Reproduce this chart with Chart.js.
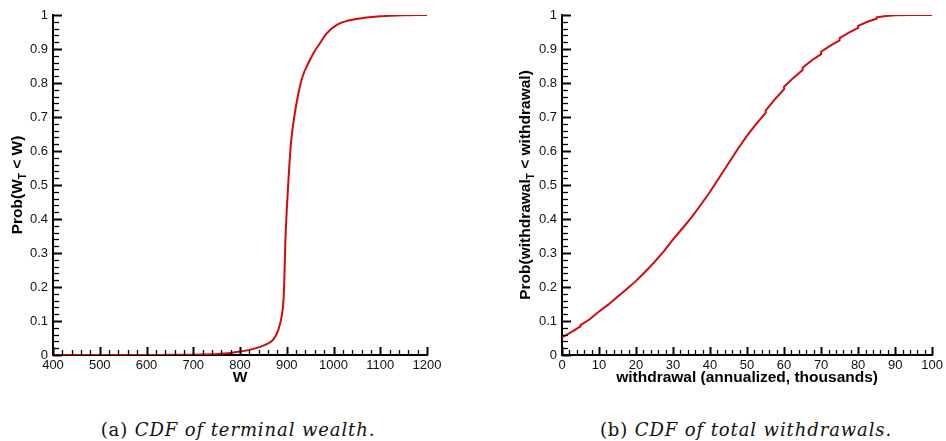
<!DOCTYPE html>
<html>
<head>
<meta charset="utf-8">
<script src="https://cdn.jsdelivr.net/npm/chart.js@4.4.1/dist/chart.umd.min.js"></script>
<style>
  html, body { margin:0; padding:0; background:#fff; overflow:hidden; }
  body { width:946px; height:441px; position:relative; }
  canvas { position:absolute; top:0; }
  #cdfW { left:0; }
  #cdfD { left:473px; }
  .caption { position:absolute; top:419px; width:400px; text-align:center;
    font-family:"DejaVu Serif", "Liberation Serif", serif; font-size:18px; letter-spacing:0.9px; color:#111; white-space:nowrap; }
  .caption i { font-style:italic; }
</style>
</head>
<body>
<canvas id="cdfW" width="473" height="400"></canvas>
<canvas id="cdfD" width="473" height="400"></canvas>
<div class="caption" style="left:38px">(a) <i>CDF of terminal wealth.</i></div>
<div class="caption" style="left:546px">(b) <i>CDF of total withdrawals.</i></div>
<script>
// (a) terminal wealth CDF
const wealthW = [400, 500, 600, 650, 700, 750, 780, 800, 820, 843, 857, 871, 882, 889, 893, 895, 897, 900, 904, 909, 916, 925, 934, 946, 958, 971, 985, 1007, 1030, 1057, 1100, 1150, 1200];
const wealthP = [0, 0, 0, 0.0005, 0.001, 0.003, 0.006, 0.01, 0.015, 0.024, 0.032, 0.045, 0.074, 0.113, 0.16, 0.23, 0.33, 0.426, 0.524, 0.623, 0.70, 0.77, 0.82, 0.858, 0.89, 0.917, 0.945, 0.971, 0.983, 0.99, 0.996, 0.999, 1];

// (b) total withdrawals CDF (small jumps at multiples of 5)
const drawX = [0, 2.5, 5, 5, 7.5, 10, 12.5, 15, 17.5, 20, 22.5, 25, 27.5, 30, 32.5, 35, 37.5, 40, 42.5, 45, 47.5, 50, 52.5, 55, 55, 57.5, 60, 60, 62.5, 65, 65, 67.5, 70, 70, 72.5, 75, 75, 77.5, 80, 80, 82.5, 85, 85, 87.5, 90, 95, 100];
const drawP = [0.052, 0.067, 0.084, 0.088, 0.105, 0.128, 0.148, 0.171, 0.194, 0.218, 0.245, 0.274, 0.305, 0.34, 0.372, 0.405, 0.442, 0.48, 0.522, 0.564, 0.606, 0.645, 0.68, 0.712, 0.719, 0.752, 0.782, 0.789, 0.815, 0.838, 0.845, 0.867, 0.885, 0.892, 0.91, 0.925, 0.932, 0.948, 0.962, 0.968, 0.98, 0.989, 0.993, 0.997, 0.999, 1, 1];

const probTicks = [0, 0.1, 0.2, 0.3, 0.4, 0.5, 0.6, 0.7, 0.8, 0.9, 1];

const tickFont = { family: "'Liberation Sans', Arial, sans-serif", size: 13 };
const titleFont = { family: "'Liberation Sans', Arial, sans-serif", size: 15.5, weight: "bold" };
const RED = "#d40a0a";

// ticks pointing into the plot, plus the rotated y title with a subscript T
const innerTicks = {
  id: "innerTicks",
  afterDraw(chart, args, o) {
    const { ctx, scales: { x, y } } = chart;
    ctx.save();
    ctx.strokeStyle = "#000";
    const nx = Math.round((x.max - x.min) / o.xMinor);
    for (let i = 0; i <= nx; i++) {
      const major = i % o.xEvery === 0;
      const px = Math.round(x.getPixelForValue(x.min + i * o.xMinor)) + 0.5;
      ctx.lineWidth = major ? 2 : 1.3;
      ctx.beginPath();
      ctx.moveTo(px, y.bottom);
      ctx.lineTo(px, y.bottom - (major ? 8 : 5));
      ctx.stroke();
    }
    const ny = Math.round((y.max - y.min) / o.yMinor);
    for (let i = 0; i <= ny; i++) {
      const major = i % o.yEvery === 0;
      const py = Math.round(y.getPixelForValue(y.min + i * o.yMinor)) + 0.5;
      ctx.lineWidth = major ? 2 : 1.3;
      ctx.beginPath();
      ctx.moveTo(x.left, py);
      ctx.lineTo(x.left + (major ? 9 : 6), py);
      ctx.stroke();
    }
    // y title
    const big = "bold 15.5px 'Liberation Sans', Arial, sans-serif";
    const small = "bold 10px 'Liberation Sans', Arial, sans-serif";
    ctx.fillStyle = "#000";
    ctx.font = big;
    const w1 = ctx.measureText(o.pre).width;
    const w3 = ctx.measureText(o.post).width;
    ctx.font = small;
    const w2 = ctx.measureText("T").width;
    const total = w1 + w2 + w3;
    const cy = (y.top + y.bottom) / 2;
    ctx.translate(o.titleX, cy);
    ctx.rotate(-Math.PI / 2);
    ctx.textBaseline = "middle";
    ctx.textAlign = "left";
    let tx = -total / 2;
    ctx.font = big;
    ctx.fillText(o.pre, tx, 0);
    tx += w1;
    ctx.font = small;
    ctx.fillText("T", tx, 5);
    tx += w2;
    ctx.font = big;
    ctx.fillText(o.post, tx, 0);
    ctx.restore();
  }
};

function makeChart(id, xs, ys, cfg) {
  return new Chart(document.getElementById(id), {
    type: "line",
    data: {
      datasets: [{
        data: xs.map((v, i) => ({ x: v, y: ys[i] })),
        borderColor: RED,
        borderWidth: 2,
        pointRadius: 0,
        tension: cfg.tension,
        cubicInterpolationMode: cfg.mono ? "monotone" : "default",
        fill: false
      }]
    },
    options: {
      responsive: false,
      animation: false,
      events: [],
      layout: { padding: { left: 0, top: 15, right: cfg.padRight, bottom: 0 } },
      plugins: {
        legend: { display: false },
        tooltip: { enabled: false },
        innerTicks: cfg.ticks
      },
      scales: {
        x: {
          type: "linear",
          min: cfg.xMin, max: cfg.xMax,
          afterFit: s => { s.height = 45; },
          grid: { display: false, drawTicks: false },
          border: { display: true, color: "#000", width: 2 },
          ticks: { stepSize: cfg.xStep, padding: 3, color: "#111", font: tickFont, maxRotation: 0, callback: v => String(v) },
          title: { display: true, text: cfg.xTitle, color: "#000", font: titleFont, padding: { top: 0, bottom: 13 } }
        },
        y: {
          type: "linear",
          min: 0, max: 1,
          afterFit: s => { s.width = cfg.yWidth; },
          afterBuildTicks: s => { s.ticks = probTicks.map(v => ({ value: v })); },
          grid: { display: false, drawTicks: false },
          border: { display: true, color: "#000", width: 2 },
          ticks: { padding: 5, color: "#111", font: tickFont, callback: v => String(+v.toFixed(1)) }
        }
      }
    },
    plugins: [innerTicks]
  });
}

makeChart("cdfW", wealthW, wealthP, {
  tension: 0.4, mono: true, padRight: 46, yWidth: 53,
  xMin: 400, xMax: 1200, xStep: 100, xTitle: "W",
  ticks: { xMinor: 20, xEvery: 5, yMinor: 0.02, yEvery: 5, titleX: 18, pre: "Prob(W", post: " < W)" }
});

makeChart("cdfD", drawX, drawP, {
  tension: 0, mono: false, padRight: 10, yWidth: 89,
  xMin: 0, xMax: 100, xStep: 10, xTitle: "withdrawal (annualized, thousands)",
  ticks: { xMinor: 2, xEvery: 5, yMinor: 0.02, yEvery: 5, titleX: 53, pre: "Prob(withdrawal", post: " < withdrawal)" }
});
</script>
</body>
</html>
